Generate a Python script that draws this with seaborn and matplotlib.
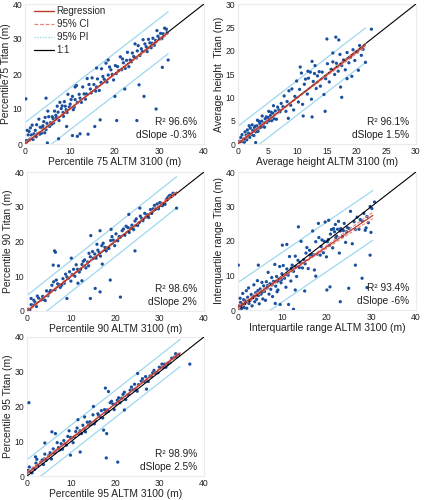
import numpy as np
import pandas as pd
import matplotlib
matplotlib.use('Agg')
import matplotlib.pyplot as plt
from matplotlib.lines import Line2D
import seaborn as sns

sns.set_theme(style='white')
plt.rcParams['font.family'] = ['Liberation Sans', 'DejaVu Sans']

# ---- data (ALTM 3100 on x, Titan on y) ----
p75_x = [0.4, 0.7, 0.5, 1.1, 0.9, 1.4, 1.8, 1.6, 2.3, 2.0, 2.6, 2.9, 3.4, 3.1, 3.7, 4.2, 3.9, 4.5, 4.9, 4.4,
         5.3, 5.7, 5.1, 6.1, 5.9, 6.6, 6.3, 7.2, 6.9, 7.6, 8.1, 7.8, 8.5, 8.3, 9.0, 9.4, 8.8, 9.9, 10.3, 9.6,
         10.8, 11.2, 10.6, 11.7, 12.1, 11.5, 12.6, 13.2, 12.9, 13.7, 14.3, 13.9, 14.8, 15.4, 15.0, 16.0,
         16.6, 16.2, 17.1, 17.7, 17.4, 18.3, 18.9, 18.1, 19.5, 20.2, 19.8, 20.7, 21.3, 20.9, 21.8, 22.4,
         22.0, 22.9, 23.5, 23.2, 24.0, 24.6, 24.3, 25.1, 25.7, 25.3, 26.2, 26.8, 26.4, 27.3, 27.9, 27.6,
         28.4, 28.9, 28.6, 29.5, 30.1, 29.7, 30.6, 31.2, 30.9, 31.6,
         0.2, 1.2, 2.5, 3.3, 4.0, 4.7, 5.5, 6.4, 7.0, 7.4, 8.6, 9.2, 10.1, 11.0, 12.3, 13.5, 14.6, 15.8,
         17.0, 18.6, 19.2, 20.4, 21.6, 22.7, 23.8, 24.9, 26.0, 27.1, 28.2, 29.2, 30.3, 31.8,
         0.2, 4.7, 18.6, 16.0, 11.2, 30.7, 32.0, 26.6, 29.3, 25.0, 20.5, 25.5, 22.3, 20.1, 12.3, 14.1,
         10.6, 11.7, 15.6, 16.8, 9.3, 5.0, 7.5]
p75_y = [1.0, 2.6, 3.9, 1.4, 3.6, 2.6, 1.3, 5.4, 3.9, 2.9, 5.5, 3.0, 4.8, 7.1, 3.1, 6.4, 4.7, 7.6, 5.9, 3.2,
         7.8, 6.1, 9.4, 7.8, 5.6, 9.4, 7.2, 10.8, 8.2, 6.7, 10.1, 11.9, 9.0, 10.9, 10.8, 9.0, 12.1, 10.6, 12.7, 14.2,
         9.8, 12.7, 13.6, 11.9, 14.2, 16.7, 11.9, 14.3, 16.3, 14.3, 17.0, 18.7, 14.6, 17.0, 18.9, 16.3,
         15.3, 18.6, 21.5, 18.5, 19.3, 17.7, 22.0, 23.1, 19.9, 22.4, 18.3, 22.1, 24.9, 20.9, 24.3, 21.6,
         23.2, 26.2, 24.0, 22.1, 26.0, 28.6, 25.0, 26.6, 25.3, 28.1, 26.4, 28.6, 29.8, 26.4, 28.9, 29.9,
         28.8, 28.2, 30.2, 32.4, 30.2, 30.8, 30.1, 33.1, 31.5, 32.8,
         0.8, 4.6, 2.1, 2.8, 5.2, 4.1, 5.0, 6.0, 7.6, 9.1, 7.9, 9.8, 11.4, 10.5, 13.1, 12.8, 15.7, 15.1,
         17.6, 19.7, 21.2, 20.1, 21.2, 23.9, 23.5, 24.6, 27.2, 27.8, 27.5, 29.6, 31.6, 31.9,
         12.9, 13.1, 24.0, 21.7, 16.3, 21.9, 24.0, 13.6, 10.0, 6.7, 6.7, 16.9, 15.7, 13.6, 2.9, 2.8,
         2.4, 2.2, 5.0, 6.9, 5.0, 0.3, 1.5]

avg_x = [0.3, 0.5, 0.8, 0.7, 1.0, 1.2, 1.1, 1.4, 1.6, 1.5, 1.8, 2.0, 2.1, 1.9, 2.3, 2.5, 2.4, 2.7, 2.8, 3.0,
         2.9, 3.2, 3.4, 3.3, 3.6, 3.7, 3.5, 3.9, 4.0, 4.2, 4.1, 4.4, 4.6, 4.5, 4.8, 4.9, 5.1, 5.3, 5.2, 5.5,
         5.7, 5.6, 5.9, 6.1, 6.0, 6.3, 6.5, 6.7, 6.9, 7.1, 7.3, 7.6, 7.8, 8.1, 8.3, 8.6, 8.9, 9.1, 9.4, 9.6,
         9.9, 10.2, 10.4, 10.7, 10.9, 11.2, 11.4, 11.7, 11.9, 12.2, 12.4, 12.7, 12.9, 13.2, 13.4, 13.7,
         13.9, 14.2, 14.5, 14.8, 15.1, 15.4, 15.7, 16.0, 16.3, 16.6, 16.9, 17.2, 17.5, 17.8, 18.1, 18.4,
         18.7, 19.0, 19.4, 19.7, 20.1, 20.5, 20.8, 21.1,
         22.5, 21.5, 16.5, 17.0, 15.0, 17.3, 17.5, 12.5, 14.7, 18.4, 19.2, 20.3, 16.0, 12.5, 11.0, 8.5,
         3.0, 10.5, 13.0, 11.8]
avg_y = [0.6, 1.4, 0.5, 2.0, 1.1, 2.6, 0.4, 1.9, 3.0, 0.9, 2.3, 1.4, 3.4, 3.9, 2.0, 2.9, 4.1, 1.8, 3.5, 2.6,
         3.8, 3.9, 2.7, 5.1, 3.4, 4.4, 4.9, 3.6, 4.9, 3.9, 6.0, 4.5, 5.4, 3.6, 5.8, 4.6, 5.7, 5.0, 7.0, 6.1,
         5.0, 6.8, 6.6, 5.4, 8.2, 7.1, 5.3, 7.9, 7.3, 6.9, 8.7, 8.0, 10.3, 7.0, 9.1, 11.4, 8.3, 11.8, 7.3, 10.2,
         13.5, 9.0, 11.7, 15.2, 8.5, 12.8, 13.9, 10.7, 14.1, 15.4, 9.6, 13.4, 15.1, 11.9, 14.6, 15.5,
         12.4, 15.4, 10.6, 14.0, 17.2, 13.3, 16.0, 17.6, 14.9, 17.3, 15.6, 19.2, 16.8, 18.0, 15.9, 19.6,
         17.4, 18.6, 20.2, 17.9, 19.7, 21.1, 19.0, 20.3,
         24.6, 17.5, 22.9, 22.3, 22.5, 12.2, 10.0, 5.8, 7.0, 14.0, 14.5, 15.8, 19.5, 17.7, 6.0, 5.5,
         0.3, 16.5, 16.8, 15.6]

p90_x = [0.3, 0.9, 0.6, 1.5, 1.2, 2.1, 2.6, 2.3, 3.2, 3.8, 3.5, 4.4, 4.1, 5.0, 5.6, 5.3, 6.3, 6.0, 6.9, 7.5,
         7.2, 8.1, 7.8, 8.7, 9.3, 9.0, 9.9, 10.5, 10.2, 11.1, 11.8, 11.4, 12.4, 12.1, 13.0, 13.7, 13.3, 14.3,
         14.0, 15.0, 15.6, 15.3, 16.3, 16.9, 16.6, 17.6, 17.2, 18.2, 18.9, 18.5, 19.5, 20.1, 19.8, 20.8,
         21.5, 21.1, 22.1, 22.8, 22.4, 23.4, 24.1, 23.7, 24.7, 25.3, 25.0, 25.9, 26.6, 26.2, 27.2, 27.9,
         27.5, 28.5, 29.1, 28.8, 29.7, 30.3, 30.0, 30.9, 31.5, 31.2, 32.1, 32.8, 32.4, 33.4,
         1.8, 4.7, 6.6, 8.4, 9.6, 10.8, 12.7, 13.9, 14.8, 16.0, 17.9, 19.2, 20.5, 21.8, 23.1, 24.4, 25.6,
         26.9, 28.2, 29.4, 30.6, 31.8, 33.0,
         5.9, 6.2, 6.4, 7.1, 14.4, 16.5, 15.8, 24.4, 21.1, 16.5, 15.4, 14.3, 9.0, 12.4, 18.8, 33.8, 0.9,
         23.0, 25.5, 10.0, 19.0, 11.5, 17.0]
p90_y = [0.5, 1.8, 0.3, 3.1, 1.7, 1.3, 3.7, 4.3, 3.2, 3.3, 4.2, 5.8, 3.0, 5.3, 7.4, 5.9, 6.1, 8.4, 7.8, 6.8,
         7.6, 9.3, 7.4, 10.6, 9.4, 9.8, 8.6, 12.0, 10.5, 13.3, 11.2, 12.0, 13.4, 12.0, 14.7, 14.1, 12.4, 15.6,
         16.6, 15.2, 15.2, 16.4, 16.8, 18.8, 15.8, 18.3, 19.5, 18.2, 20.3, 18.0, 20.4, 22.2, 18.8, 21.4,
         23.1, 21.3, 21.8, 24.0, 24.4, 23.8, 23.4, 24.7, 26.5, 25.4, 24.6, 26.7, 28.1, 26.0, 27.7, 29.2,
         26.9, 29.4, 29.4, 30.4, 29.4, 31.0, 31.2, 30.9, 32.1, 30.7, 33.1, 33.2, 33.3, 33.6,
         2.5, 4.4, 8.9, 8.0, 11.3, 10.0, 14.3, 13.0, 17.1, 17.5, 17.3, 21.4, 20.2, 23.6, 22.6, 25.9, 27.3,
         27.1, 28.1, 30.8, 30.3, 32.6, 33.9,
         13.2, 17.3, 16.9, 13.0, 21.7, 23.1, 19.2, 17.3, 4.0, 5.5, 6.5, 3.6, 3.6, 8.7, 8.9, 29.6, 3.6,
         27.8, 29.6, 15.2, 23.5, 8.0, 13.5]

iqr_x = [0.3, 0.5, 0.8, 0.6, 1.1, 1.0, 1.4, 1.3, 1.7, 1.9, 2.0, 2.2, 2.5, 2.4, 2.8, 3.0, 3.2, 3.4, 3.6, 3.8,
         4.0, 4.2, 4.4, 4.6, 4.8, 5.0, 5.2, 5.4, 5.6, 5.8, 6.0, 6.2, 6.4, 6.6, 6.8, 7.0, 7.2, 7.4, 7.6, 7.8,
         8.0, 8.3, 8.5, 8.7, 9.0, 9.2, 9.4, 9.7, 9.9, 10.2, 10.5, 10.8, 11.0, 11.3, 11.6, 11.9, 12.2, 12.5,
         12.9, 13.2, 13.5, 13.8, 14.2, 14.5, 14.8, 15.1, 15.5, 15.8, 16.1, 16.5, 16.8, 17.2, 17.5, 17.8,
         18.2, 18.5, 18.9, 19.2, 19.6, 19.9, 20.3, 20.6, 21.0, 21.3, 21.7, 22.0, 22.4, 22.8, 23.1, 23.5,
         23.9, 24.2, 24.6, 25.0, 25.3, 25.7, 26.1, 26.4, 26.8, 27.2, 27.5, 27.9, 28.3, 28.6, 29.0, 29.3,
         29.7, 29.9,
         20.8, 21.5, 22.2, 23.0, 22.6, 21.9, 20.1, 23.7, 24.4, 19.4, 18.7, 17.0, 16.2, 15.3, 14.0, 13.0,
         12.0, 10.9, 9.8, 8.8, 7.7, 6.7, 5.5, 4.5, 3.5, 2.6, 1.6, 0.9,
         0.1, 4.6, 13.6, 18.1, 20.4, 12.9, 11.4, 12.5, 20.0, 20.7, 23.0, 24.9, 26.4, 27.9, 29.0, 29.7,
         28.8, 30.7, 30.1, 8.8, 9.5, 8.4, 10.0, 11.0, 15.0, 17.5]
iqr_y = [1.2, 3.4, 0.4, 2.2, 4.8, 1.6, 0.7, 3.0, 2.1, 5.6, 0.5, 3.7, 1.9, 6.4, 2.9, 4.5, 1.2, 3.6, 7.3, 2.4,
         5.0, 3.1, 8.5, 4.2, 1.8, 6.1, 4.6, 8.0, 3.2, 7.0, 5.4, 2.8, 8.2, 6.4, 10.9, 4.6, 7.6, 6.0, 9.4, 3.9,
         8.3, 13.2, 6.9, 9.7, 5.8, 8.6, 12.6, 7.9, 10.5, 12.9, 9.2, 6.6, 11.9, 10.1, 15.5, 8.4, 13.0, 11.2,
         15.6, 9.7, 14.4, 12.3, 19.9, 12.2, 14.6, 13.4, 18.1, 12.0, 17.3, 16.1, 22.9, 11.6, 19.8, 16.2,
         21.0, 15.9, 20.3, 16.6, 25.5, 15.4, 20.4, 18.7, 23.3, 18.0, 22.7, 21.0, 23.4, 16.5, 23.6, 21.3,
         25.1, 19.6, 23.9, 23.6, 28.6, 19.2, 25.6, 23.3, 26.9, 23.4, 26.2, 25.8, 28.0, 23.1, 27.1, 25.3,
         30.0, 22.5,
         22.0, 23.6, 21.4, 22.9, 25.7, 24.8, 19.8, 23.0, 22.7, 19.9, 18.4, 16.0, 15.9, 16.5, 13.8, 12.6,
         12.1, 10.4, 8.8, 8.2, 7.3, 7.1, 5.2, 5.6, 4.0, 2.7, 2.6, 0.9,
         13.0, 13.0, 24.1, 25.1, 26.0, 5.8, 1.6, 0.2, 5.8, 6.7, 2.4, 6.3, 13.0, 9.2, 6.5, 15.9,
         23.8, 31.3, 29.4, 5.3, 1.6, 1.9, 18.8, 19.0, 5.5, 9.8]

p95_x = [0.2, 0.8, 0.5, 1.4, 1.1, 2.0, 2.5, 2.2, 3.1, 3.7, 3.4, 4.3, 4.0, 4.9, 5.5, 5.2, 6.2, 5.9, 6.8, 7.4,
         7.1, 8.0, 7.7, 8.6, 9.2, 8.9, 9.8, 10.4, 10.1, 11.0, 11.7, 11.3, 12.3, 12.0, 12.9, 13.6, 13.2, 14.2,
         13.9, 14.9, 15.5, 15.2, 16.2, 16.8, 16.5, 17.5, 17.1, 18.1, 18.8, 18.4, 19.4, 20.0, 19.7, 20.7,
         21.4, 21.0, 22.0, 22.7, 22.3, 23.3, 24.0, 23.6, 24.6, 25.2, 24.9, 25.8, 26.5, 26.1, 27.1, 27.8,
         27.4, 28.4, 29.0, 28.7, 29.6, 30.2, 29.9, 30.8, 31.4, 31.1, 32.0, 32.7, 32.3, 33.3, 33.9, 34.3,
         1.7, 3.9, 6.5, 8.3, 10.7, 12.6, 14.5, 16.0, 17.8, 19.1, 20.4, 21.7, 23.0, 24.3, 26.8, 28.1, 30.5,
         31.7, 33.6, 9.5, 11.5, 13.0,
         0.4, 1.9, 5.6, 6.4, 12.0, 9.8, 17.7, 18.4, 17.3, 18.0, 17.9, 20.5, 15.0, 36.8, 4.0, 25.0, 22.0, 27.0]
p95_y = [1.6, 1.1, 2.6, 2.2, 0.9, 3.7, 3.0, 4.8, 4.0, 3.3, 4.6, 4.5, 6.3, 5.9, 4.9, 6.7, 6.6, 7.8, 9.6, 7.5,
         8.2, 7.7, 9.3, 9.3, 11.4, 8.9, 11.1, 9.6, 11.0, 12.8, 12.1, 13.8, 12.2, 13.0, 13.5, 15.5, 12.7, 15.6,
         14.7, 17.6, 15.8, 15.0, 17.4, 18.8, 17.0, 19.1, 16.7, 19.0, 21.1, 18.6, 20.7, 20.7, 19.1, 22.5,
         22.4, 21.1, 24.1, 23.3, 22.0, 24.7, 24.8, 25.6, 24.8, 26.3, 24.4, 27.3, 27.2, 28.0, 27.4, 28.8,
         27.2, 29.7, 29.6, 30.4, 29.7, 31.1, 31.3, 31.2, 31.3, 32.2, 32.6, 33.9, 32.6, 34.2, 34.4, 34.9,
         1.9, 4.9, 7.0, 10.2, 11.3, 14.6, 14.9, 17.9, 18.2, 21.5, 21.8, 23.5, 23.5, 26.4, 28.6, 28.6, 32.2,
         32.0, 35.2, 13.0, 16.2, 17.0,
         21.1, 5.5, 12.7, 12.2, 6.9, 6.0, 25.3, 24.3, 13.2, 12.2, 5.2, 4.0, 20.0, 32.2, 9.5, 29.5, 19.0, 25.0]

# axis labels, limits and stats printed in each panel
x_labels = ['Percentile 75 ALTM 3100 (m)', 'Average height ALTM 3100 (m)', 'Percentile 90 ALTM 3100 (m)',
            'Interquartile range ALTM 3100 (m)', 'Percentile 95 ALTM 3100 (m)']
y_labels = ['Percentile75 Titan (m)', 'Average height  Titan (m)', 'Percentile 90 Titan (m)',
            'Interquartile range Titan (m)', 'Percentile 95 Titan (m)']
axis_max = [40, 30, 40, 40, 40]
tick_step = [10, 5, 10, 10, 10]
r2_text = ['96.6%', '96.1%', '98.6%', '93.4%', '98.9%']
dslope_text = ['-0.3%', '1.5%', '2%', '-6%', '2.5%']

# fitted lines: intercept, slope, x range end, PI half width
reg_intercept = [0.1, 0.1, 0.0, 0.75, 0.8]
reg_slope = [0.99, 0.98, 1.01, 0.88, 1.0]
reg_xmax = [32.0, 21.5, 33.8, 30.3, 34.6]
pi_half = [6.0, 3.7, 4.5, 7.2, 3.9]
# CI half width at start / middle / end of the fitted line
ci_half = [[0.4, 0.1, 0.4], [0.3, 0.1, 0.4], [0.3, 0.1, 0.3], [0.6, 0.2, 0.9], [0.4, 0.1, 0.3]]

xs = [p75_x, avg_x, p90_x, iqr_x, p95_x]
ys = [p75_y, avg_y, p90_y, iqr_y, p95_y]

# axes boxes [left, bottom, width, height] in figure fraction
boxes = [[0.059, 0.712, 0.422, 0.280], [0.561, 0.712, 0.420, 0.280],
         [0.064, 0.378, 0.417, 0.278], [0.561, 0.380, 0.420, 0.276],
         [0.064, 0.048, 0.417, 0.278]]

point_color = '#1A509E'
reg_color = '#C0392B'
ci_color = '#E8847C'
pi_color = '#9ED8EE'
txt_color = '#222222'

fig = plt.figure(figsize=(4.24, 5.0), dpi=100)

for i in range(5):
    ax = fig.add_axes(boxes[i])
    df = pd.DataFrame({'x': xs[i], 'y': ys[i]})
    top = axis_max[i]

    # 1:1 line
    ax.plot([0, top], [0, top], color='black', lw=0.8, zorder=4)

    # regression, CI and PI
    b0, b1, xm = reg_intercept[i], reg_slope[i], reg_xmax[i]
    lx = np.array([0, xm / 2, xm])
    ly = b0 + b1 * lx
    ax.plot(lx, ly + pi_half[i], color=pi_color, lw=0.9, zorder=2)
    ax.plot(lx, ly - pi_half[i], color=pi_color, lw=0.9, zorder=2)

    sns.scatterplot(data=df, x='x', y='y', ax=ax, s=5.5, color=point_color,
                    edgecolor='none', linewidth=0, zorder=3)

    ci = np.array(ci_half[i])
    ax.plot(lx, ly + ci, color=ci_color, lw=0.8, ls=(0, (3, 1.5)), zorder=5)
    ax.plot(lx, ly - ci, color=ci_color, lw=0.8, ls=(0, (3, 1.5)), zorder=5)
    ax.plot(lx, ly, color=reg_color, lw=0.9, zorder=5)

    ax.set_xlim(0, top)
    ax.set_ylim(0, top)
    ticks = np.arange(0, top + 1, tick_step[i])
    ax.set_xticks(ticks)
    ax.set_yticks(ticks)
    ax.tick_params(length=0, pad=2, labelsize=6.2, colors=txt_color)
    ax.set_xlabel(x_labels[i], fontsize=7.4, color=txt_color, labelpad=1)
    ax.set_ylabel(y_labels[i], fontsize=7.4, color=txt_color, labelpad=1)
    for sp in ax.spines.values():
        sp.set_color('#ECECEC')
        sp.set_linewidth(0.8)

    ax.text(0.96, 0.157, 'R\u00b2 ' + r2_text[i], transform=ax.transAxes, ha='right', va='center',
            fontsize=7.3, color=txt_color)
    ax.text(0.96, 0.064, 'dSlope ' + dslope_text[i], transform=ax.transAxes, ha='right', va='center',
            fontsize=7.3, color=txt_color)

    if i == 0:
        handles = [Line2D([], [], color=reg_color, lw=1.0),
                   Line2D([], [], color=ci_color, lw=0.9, ls=(0, (3, 1.5))),
                   Line2D([], [], color=pi_color, lw=1.0, ls=(0, (1, 1))),
                   Line2D([], [], color='black', lw=0.9)]
        ax.legend(handles, ['Regression', '95% CI', '95% PI', '1:1'], loc='upper left',
                  bbox_to_anchor=(0.03, 1.01), frameon=False, fontsize=7.0, handlelength=2.0,
                  handletextpad=0.3, labelspacing=0.3, borderaxespad=0.0)

fig.savefig('out.png', dpi=100)
